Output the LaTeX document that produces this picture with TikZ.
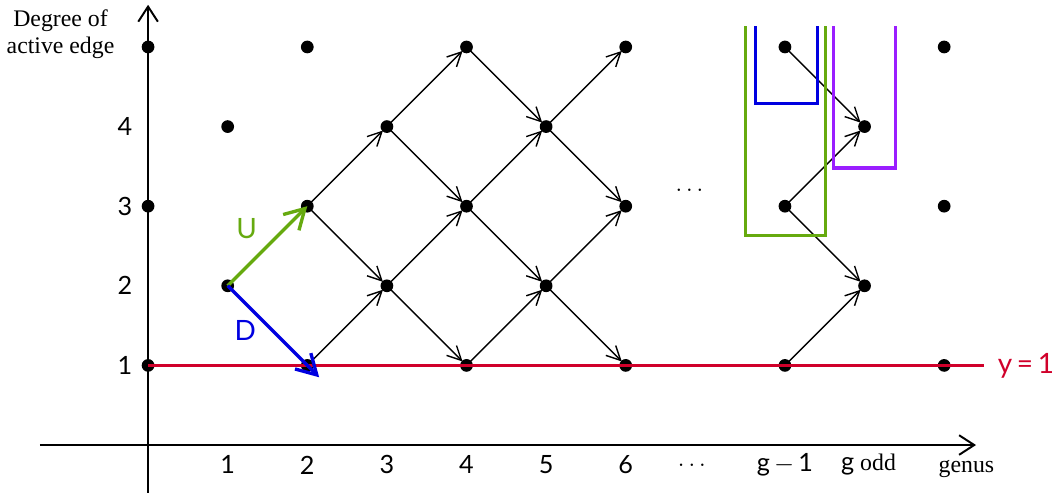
\documentclass[tikz,border=0pt]{standalone}
\usepackage{fontspec}
\setmainfont{Liberation Serif}
\newfontfamily\numfont{Lato}
\usepackage{xcolor}
\usepackage{tikz}
\usetikzlibrary{arrows.meta}
\definecolor{upgreen}{HTML}{66AA0F}
\definecolor{downblue}{HTML}{0000E0}
\definecolor{boxpurple}{HTML}{9A1EFF}
\definecolor{lowred}{HTML}{D0002A}

\begin{document}
\begin{tikzpicture}[font=\fontsize{8.5}{9.5}\selectfont,
    axis/.style={line width=0.7pt,-{Straight Barb[length=5.4pt,width=7pt]}},
    move/.style={line width=0.5pt,-{Straight Barb[length=5pt,width=5pt]},shorten >=2pt},
    stepmove/.style={line width=1.2pt,-{Straight Barb[length=7pt,width=8pt]}},
    openbox/.style={line width=1.1pt},
    num/.style={font=\fontsize{9}{10}\selectfont\numfont}]
  \useasboundingbox (-1.86,-0.64) rectangle (11.43,5.59);
  % axes
  \coordinate (xstart) at (-1.36,0);
  \coordinate (xend) at (10.4,0);
  \coordinate (ystart) at (0,-0.6);
  \coordinate (yend) at (0,5.53);
  \draw[axis] (xstart) -- (xend);
  \draw[axis] (ystart) -- (yend);
  \node[align=center] (ylabel) at (-1.1,5.16) {Degree of\\active edge};
  \foreach \y in {1,...,4}
    \node[num] (yl\y) at (-0.29,\y) {\y};
  \foreach \x in {1,...,6}
    \node[num] (xl\x) at (\x,-0.25) {\x};
  \node (xldots) at (6.83,-0.25) {$\dots$};
  \node[num] (xlg) at (8,-0.25) {g\,$-$\,1};
  \node (xlodd) at (9.05,-0.25) {{\numfont\fontsize{9}{10}\selectfont g} odd};
  \node (xlgenus) at (10.28,-0.3) {genus};
  % lattice points
  \foreach \x/\y in {0/1,0/3,0/5,1/2,1/4,2/1,2/3,2/5,3/2,3/4,4/1,4/3,4/5,5/2,5/4,
      6/1,6/3,6/5,8/1,8/3,8/5,9/2,9/4,10/1,10/3,10/5}{
    \coordinate (p\x-\y) at (\x,\y);
    \fill (p\x-\y) circle (0.08);
  }
  \node (middots) at (6.8,3.2) {$\dots$};
  % moves
  \foreach \x/\y [evaluate=\x as \nx using int(\x+1), evaluate=\y as \uy using int(\y+1)]
      in {2/1,3/2,4/3,5/4,2/3,3/4,4/1,5/2,8/1,8/3}
    \draw[move] (p\x-\y) -- (p\nx-\uy);
  \foreach \x/\y [evaluate=\x as \nx using int(\x+1), evaluate=\y as \dy using int(\y-1)]
      in {2/3,3/2,3/4,4/3,5/2,4/5,5/4,8/5,8/3}
    \draw[move] (p\x-\y) -- (p\nx-\dy);
  % y = 1
  \coordinate (redend) at (10.5,1);
  \draw[lowred,line width=1.3pt] (p0-1) -- (redend);
  \node[num,lowred,anchor=west,font=\fontsize{10}{11}\selectfont\numfont] (redlabel) at (10.55,1) {y\,=\,1};
  % steps
  \draw[stepmove,upgreen] (p1-2) -- (p2-3);
  \draw[stepmove,downblue,shorten >=-6pt] (p1-2) -- (p2-1);
  \node[num,upgreen,font=\fontsize{10}{11}\selectfont\numfont] (ulabel) at (1.24,2.72) {U};
  \node[num,downblue,font=\fontsize{10}{11}\selectfont\numfont] (dlabel) at (1.22,1.44) {D};
  % boxes
  \draw[openbox,upgreen] (7.50,5.26) |- (8.51,2.63) -- (8.51,5.26);
  \draw[openbox,downblue] (7.63,5.26) |- (8.41,4.29) -- (8.41,5.26);
  \draw[openbox,boxpurple] (8.61,5.26) |- (9.39,3.48) -- (9.39,5.26);
\end{tikzpicture}
\end{document}
